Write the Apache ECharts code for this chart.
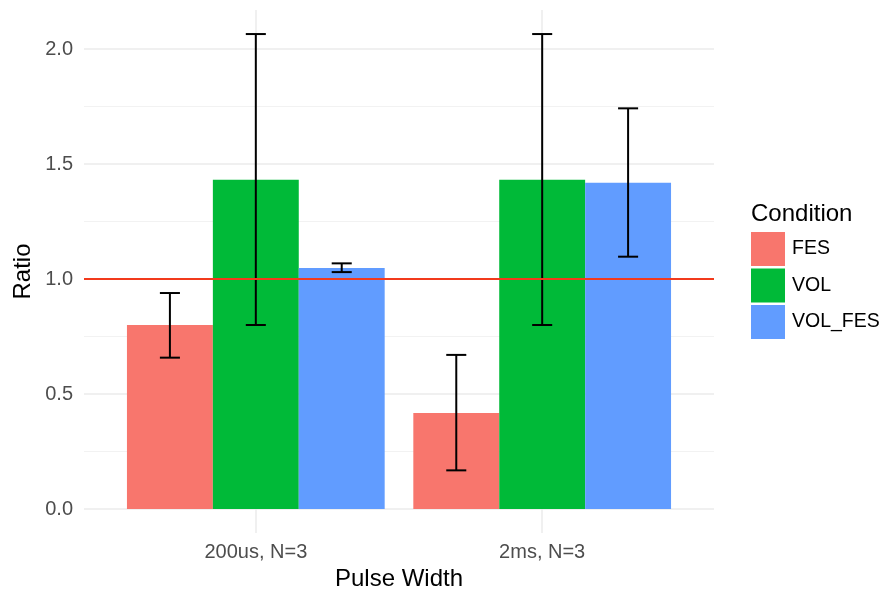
<!DOCTYPE html>
<html>
<head>
<meta charset="utf-8">
<script src="https://cdn.jsdelivr.net/npm/echarts@6/dist/echarts.min.js"></script>
<style>
  html, body { margin: 0; padding: 0; background: #fff; }
  #chart { width: 884px; height: 594px; }
</style>
</head>
<body>
<div id="chart"></div>
<script>
// Pulse width groups and experimental conditions
const categories = ['200us, N=3', '2ms, N=3'];
const conditions = ['FES', 'VOL', 'VOL_FES'];
const colors = ['#F8766D', '#00BA38', '#619CFF'];

// Mean ratio and error-bar limits per condition (one entry per pulse width)
const fesMean = [0.800, 0.417];
const fesLow = [0.658, 0.168];
const fesHigh = [0.939, 0.670];

const volMean = [1.432, 1.432];
const volLow = [0.800, 0.800];
const volHigh = [2.065, 2.065];

const volFesMean = [1.048, 1.419];
const volFesLow = [1.030, 1.097];
const volFesHigh = [1.068, 1.742];

// Reference ratio
const refLine = 1.0;

const means = [fesMean, volMean, volFesMean];
const lows = [fesLow, volLow, volFesLow];
const highs = [fesHigh, volHigh, volFesHigh];

// Dodged bar layout on a continuous x scale (category k sits at k + 1)
const DODGE = 0.9;
const BAR_W = DODGE / conditions.length;
const WHISKER_HALF = 0.035;

const FONT = 'Liberation Sans, Arial, Helvetica, sans-serif';

function barRender(params, api) {
  const x = api.value(0);
  const v = api.value(1);
  const lo = api.value(2);
  const hi = api.value(3);
  const tl = api.coord([x - BAR_W / 2, v]);
  const br = api.coord([x + BAR_W / 2, 0]);
  const c = api.coord([x, 0]);
  const pLo = api.coord([x, lo]);
  const pHi = api.coord([x, hi]);
  const wl = api.coord([x - WHISKER_HALF, 0])[0];
  const wr = api.coord([x + WHISKER_HALF, 0])[0];
  const ebStyle = { stroke: '#000', lineWidth: 2 };
  return {
    type: 'group',
    children: [
      {
        type: 'rect',
        shape: { x: tl[0], y: tl[1], width: br[0] - tl[0], height: br[1] - tl[1] },
        style: { fill: api.visual('color') }
      },
      { type: 'line', shape: { x1: c[0], y1: pLo[1], x2: c[0], y2: pHi[1] }, style: ebStyle },
      { type: 'line', shape: { x1: wl, y1: pLo[1], x2: wr, y2: pLo[1] }, style: ebStyle },
      { type: 'line', shape: { x1: wl, y1: pHi[1], x2: wr, y2: pHi[1] }, style: ebStyle }
    ]
  };
}

const barSeries = conditions.map(function (name, s) {
  const offset = (s - (conditions.length - 1) / 2) * BAR_W;
  return {
    name: name,
    type: 'custom',
    xAxisIndex: 0,
    yAxisIndex: 0,
    itemStyle: { color: colors[s] },
    renderItem: barRender,
    clip: false,
    encode: { x: 0, y: 1 },
    data: categories.map(function (cat, k) {
      return [k + 1 + offset, means[s][k], lows[s][k], highs[s][k]];
    })
  };
});

const chart = echarts.init(document.getElementById('chart'), null, { renderer: 'canvas' });

chart.setOption({
  backgroundColor: '#ffffff',
  animation: false,
  textStyle: { fontFamily: FONT },
  title: {
    text: 'Condition',
    left: 751,
    top: 202,
    padding: 0,
    textStyle: { fontFamily: FONT, fontSize: 24, fontWeight: 'normal', color: '#000' }
  },
  legend: {
    data: conditions,
    orient: 'vertical',
    left: 751,
    top: 232,
    padding: 0,
    itemWidth: 34,
    itemHeight: 34,
    itemGap: 2.5,
    icon: 'rect',
    selectedMode: false,
    textStyle: { fontFamily: FONT, fontSize: 19.5, color: '#000', padding: [0, 0, 0, 2] }
  },
  grid: [
    // plotting panel
    { left: 84, right: 170, top: 49, bottom: 85, outerBoundsMode: 'none', containLabel: false },
    // full panel including expansion, used for category ticks and vertical grid lines
    { left: -30.5, right: 55.5, top: 10, bottom: 61, outerBoundsMode: 'none', containLabel: false }
  ],
  xAxis: [
    {
      gridIndex: 0,
      type: 'value',
      min: 0.4,
      max: 2.6,
      show: false
    },
    {
      gridIndex: 1,
      type: 'value',
      min: 0,
      max: 3,
      interval: 1,
      name: 'Pulse Width',
      nameLocation: 'middle',
      nameGap: 34,
      nameTextStyle: { fontFamily: FONT, fontSize: 24, color: '#000' },
      axisLine: { show: false },
      axisTick: { show: false },
      axisLabel: {
        showMinLabel: false,
        showMaxLabel: false,
        margin: 9,
        fontFamily: FONT,
        fontSize: 20,
        color: '#4d4d4d',
        formatter: function (v) {
          const k = Math.round(v) - 1;
          return categories[k] !== undefined ? categories[k] : '';
        }
      },
      splitLine: {
        show: true,
        showMinLine: false,
        showMaxLine: false,
        lineStyle: { color: '#ebebeb', width: 1.5 }
      }
    }
  ],
  yAxis: [
    {
      gridIndex: 0,
      type: 'value',
      min: 0,
      max: 2,
      interval: 0.5,
      axisLine: { show: false },
      axisTick: { show: false },
      axisLabel: {
        margin: 11,
        fontFamily: FONT,
        fontSize: 20,
        color: '#4d4d4d',
        formatter: function (v) { return v.toFixed(1); }
      },
      splitLine: { show: true, lineStyle: { color: '#ebebeb', width: 1.5 } },
      minorTick: { show: false, splitNumber: 2 },
      minorSplitLine: { show: true, lineStyle: { color: '#f2f2f2', width: 1.2 } }
    },
    {
      gridIndex: 1,
      type: 'value',
      min: 0,
      max: 1,
      name: 'Ratio',
      nameLocation: 'middle',
      nameGap: -65.5,
      nameTextStyle: { fontFamily: FONT, fontSize: 24, color: '#000' },
      axisLine: { show: false },
      axisTick: { show: false },
      axisLabel: { show: false },
      splitLine: { show: false }
    }
  ],
  series: barSeries.concat([
    {
      name: 'reference',
      type: 'line',
      xAxisIndex: 0,
      yAxisIndex: 0,
      data: [],
      showSymbol: false,
      markLine: {
        silent: true,
        symbol: ['none', 'none'],
        label: { show: false },
        lineStyle: { color: '#f23a1c', width: 2, type: 'solid' },
        data: [{ yAxis: refLine }]
      }
    }
  ])
});
</script>
</body>
</html>
